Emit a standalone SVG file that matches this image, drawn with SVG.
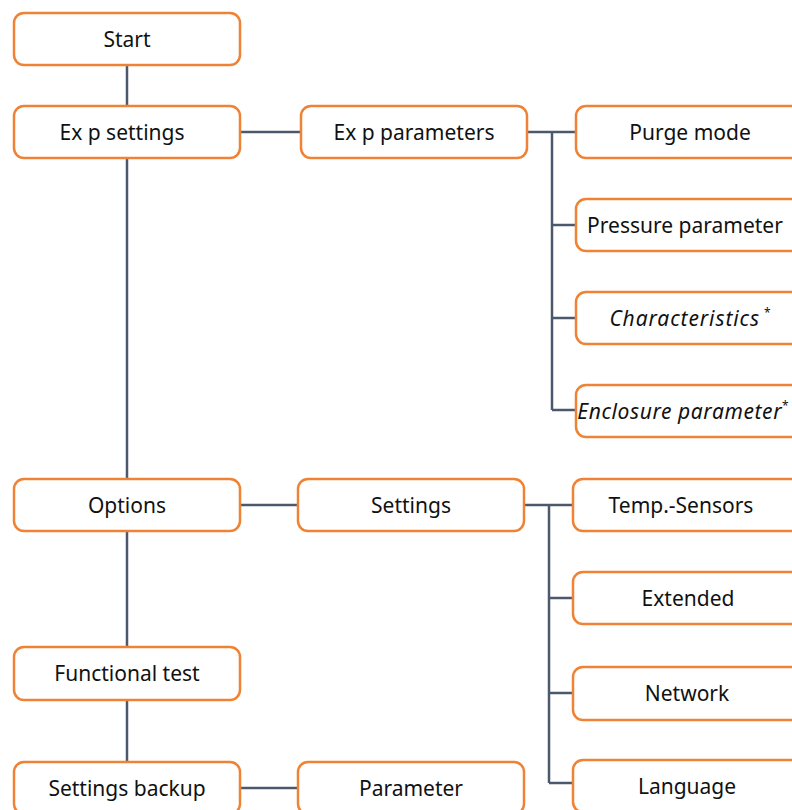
<svg xmlns="http://www.w3.org/2000/svg" width="792" height="810" viewBox="0 0 792 810">
<style>
.box{fill:#fff;stroke:#ef8235;stroke-width:2.5}
.lbl{font-family:"Noto Sans","Liberation Sans",sans-serif;font-size:21px;fill:#111;text-anchor:middle}
.it{font-style:italic;letter-spacing:0.9px}
.con{fill:none;stroke:#4b586e;stroke-width:2.5}
</style>
<rect width="792" height="810" fill="#fff"/>
<g id="connectors">
<path class="con" d="M127 65V106M127 158V479M127 531V647M127 700V762"/>
<path class="con" d="M240 132H301M240 505H298M240 788H298"/>
<path class="con" d="M527 132H576M552 132V410M552 225H576M552 318H576M552 410H576"/>
<path class="con" d="M524 505H573M549 505V783M549 598H573M549 693H573M549 783H573"/>
</g>
<g id="start"><rect class="box" x="14" y="13" width="226" height="52" rx="10"/><text class="lbl" x="127" y="46.5">Start</text></g>
<g id="exp-settings"><rect class="box" x="14" y="106" width="226" height="52" rx="10"/><text class="lbl" x="122" y="139.5">Ex p settings</text></g>
<g id="options"><rect class="box" x="14" y="479" width="226" height="52" rx="10"/><text class="lbl" x="127" y="512.5">Options</text></g>
<g id="functional-test"><rect class="box" x="14" y="647" width="226" height="53" rx="10"/><text class="lbl" x="127" y="680.5">Functional test</text></g>
<g id="settings-backup"><rect class="box" x="14" y="762" width="226" height="52" rx="10"/><text class="lbl" x="127" y="795.5">Settings backup</text></g>
<g id="exp-parameters"><rect class="box" x="301" y="106" width="226" height="52" rx="10"/><text class="lbl" x="414" y="139.5">Ex p parameters</text></g>
<g id="settings"><rect class="box" x="298" y="479" width="226" height="52" rx="10"/><text class="lbl" x="411" y="512.5">Settings</text></g>
<g id="parameter"><rect class="box" x="298" y="762" width="226" height="52" rx="10"/><text class="lbl" x="411" y="795.5">Parameter</text></g>
<g id="purge-mode"><rect class="box" x="576" y="106" width="230" height="52" rx="10"/><text class="lbl" x="690" y="139.5">Purge mode</text></g>
<g id="pressure-parameter"><rect class="box" x="576" y="199" width="230" height="52" rx="10"/><text class="lbl" x="685" y="232.5">Pressure parameter</text></g>
<g id="characteristics"><rect class="box" x="576" y="292" width="230" height="52" rx="10"/><text class="lbl" x="690" y="325.5"><tspan class="it">Characteristics</tspan><tspan font-size="12" dx="4" dy="-9">*</tspan></text></g>
<g id="enclosure-parameter"><rect class="box" x="576" y="385" width="230" height="52" rx="10"/><text class="lbl" x="683" y="418.5"><tspan class="it" style="letter-spacing:0.6px">Enclosure parameter</tspan><tspan font-size="12" dy="-9">*</tspan></text></g>
<g id="temp-sensors"><rect class="box" x="573" y="479" width="230" height="52" rx="10"/><text class="lbl" x="681" y="512.5">Temp.-Sensors</text></g>
<g id="extended"><rect class="box" x="573" y="572" width="230" height="52" rx="10"/><text class="lbl" x="688" y="605.5">Extended</text></g>
<g id="network"><rect class="box" x="573" y="667" width="230" height="53" rx="10"/><text class="lbl" x="687" y="700.5">Network</text></g>
<g id="language"><rect class="box" x="573" y="760" width="230" height="52" rx="10"/><text class="lbl" x="687" y="793.5">Language</text></g>
</svg>
